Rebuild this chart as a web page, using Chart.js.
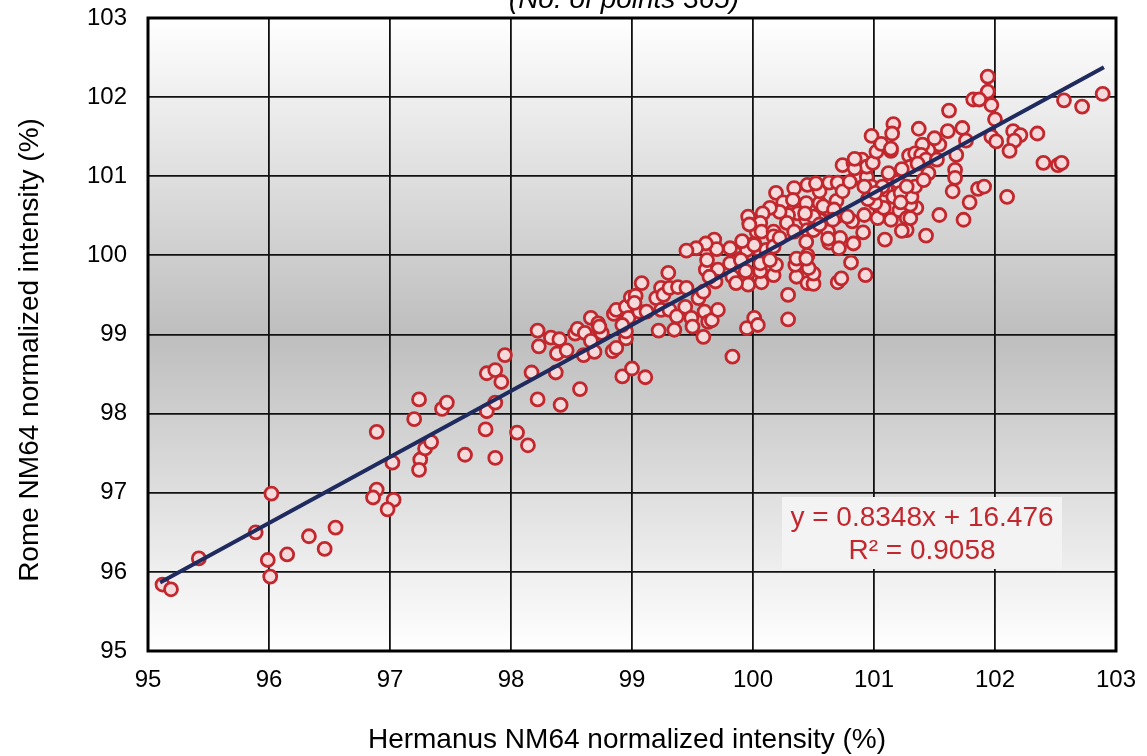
<!DOCTYPE html>
<html>
<head>
<meta charset="utf-8">
<script src="https://cdn.jsdelivr.net/npm/chart.js@4.4.1/dist/chart.umd.min.js"></script>
<style>
html, body { margin: 0; padding: 0; background: #FFFFFF; }
#graph_wrap { width: 1147px; height: 756px; }
</style>
</head>
<body>
<div id="graph_wrap"><canvas id="graph_scatter"></canvas></div>
<script>

// Hermanus NM64 normalized intensity (%) - x of each point
var HERMANUS = [
    95.12, 95.19, 95.42, 95.89, 96.02, 95.99, 96.01, 96.15, 96.33, 96.46,
    96.55, 96.89, 96.89, 96.86, 97.03, 96.98, 97.02, 97.20, 97.24, 97.25,
    97.24, 97.29, 97.34, 97.43, 97.47, 97.62, 97.87, 97.79, 97.80, 97.87,
    97.80, 97.87, 97.92, 97.95, 98.05, 98.14, 98.22, 98.17, 98.22, 98.23,
    98.33, 98.40, 98.37, 98.41, 98.38, 98.46, 98.53, 98.55, 98.61, 98.57,
    98.60, 98.69, 98.66, 98.66, 98.72, 98.73, 98.75, 98.84, 98.87, 98.92,
    99.00, 98.85, 98.87, 98.95, 98.97, 98.95, 98.95, 98.92, 98.99, 99.03,
    99.06, 99.08, 99.11, 99.20, 99.24, 99.26, 99.31, 99.38, 99.45, 99.30,
    99.24, 99.31, 99.37, 99.44, 99.49, 99.50, 99.35, 99.22, 99.59, 99.60,
    99.63, 99.66, 99.71, 99.55, 99.59, 99.61, 99.62, 99.71, 99.69, 99.83,
    99.81, 99.96, 99.96, 99.90, 99.92, 99.81, 99.68, 99.70, 99.61, 99.53,
    99.45, 100.01, 100.03, 99.97, 99.96, 99.95, 100.01, 100.04, 99.83, 99.86,
    100.07, 100.17, 100.29, 100.29, 100.36, 100.45, 99.64, 100.50, 100.50, 100.46,
    100.35, 100.36, 100.45, 100.70, 100.73, 100.81, 100.93, 101.09, 100.63, 100.72,
    100.83, 100.62, 100.91, 100.82, 100.92, 101.03, 101.14, 101.08, 101.01, 101.21,
    101.27, 101.27, 100.69, 100.62, 100.69, 100.55, 100.55, 100.63, 100.70, 100.74,
    100.85, 100.94, 100.98, 100.74, 100.83, 100.90, 100.94, 100.99, 101.02, 101.14,
    101.12, 101.20, 101.25, 101.10, 101.16, 100.45, 100.34, 100.19, 100.25, 100.33,
    100.44, 100.37, 100.29, 100.28, 100.22, 100.14, 100.08, 100.06, 100.07, 100.17,
    100.17, 99.95, 100.05, 100.11, 100.17, 100.22, 100.44, 100.45, 100.44, 100.55,
    100.06, 100.06, 100.19, 100.14, 100.95, 100.78, 100.92, 100.50, 100.50, 100.71,
    101.94, 101.94, 101.82, 101.87, 101.97, 101.62, 102.00, 101.16, 101.15, 100.98,
    101.06, 101.14, 101.37, 101.73, 101.61, 101.76, 101.97, 102.01, 102.15, 102.21,
    102.16, 102.12, 101.68, 101.54, 101.45, 101.40, 101.50, 101.29, 101.34, 101.39,
    101.67, 101.67, 101.65, 101.79, 101.86, 101.91, 102.10, 101.74, 101.54, 101.43,
    101.35, 101.30, 101.31, 101.34, 101.45, 101.30, 101.43, 101.22, 102.89, 102.72,
    102.57, 102.35, 102.40, 102.52, 102.55, 99.12, 98.73, 99.97, 100.01, 99.91,
    99.90, 99.94, 100.62, 100.44, 101.22, 100.84, 100.58, 100.67, 100.66, 101.07,
    100.43, 100.55, 101.23, 101.30, 101.23, 100.84, 99.02, 100.80, 101.01, 100.34,
    100.52, 101.27, 101.41, 101.36, 101.52
];

// Rome NM64 normalized intensity (%) - y of each point
var ROME = [
    95.84, 95.78, 96.17, 96.50, 96.99, 96.15, 95.94, 96.22, 96.45, 96.29,
    96.56, 97.77, 97.04, 96.94, 96.91, 96.79, 97.38, 97.93, 98.18, 97.42,
    97.29, 97.56, 97.64, 98.06, 98.14, 97.48, 97.44, 97.80, 98.03, 98.14,
    98.51, 98.55, 98.40, 98.74, 97.76, 97.60, 98.18, 98.52, 99.05, 98.85,
    98.96, 98.94, 98.52, 98.11, 98.76, 98.80, 99.01, 99.07, 99.02, 98.31,
    98.74, 98.78, 98.92, 99.21, 99.14, 99.07, 99.02, 98.79, 98.83, 98.47,
    98.57, 99.26, 99.31, 99.35, 99.21, 98.95, 99.04, 99.12, 99.47, 99.49,
    99.29, 99.65, 98.46, 99.46, 99.59, 99.50, 99.59, 99.60, 99.59, 99.78,
    99.31, 99.31, 99.23, 99.35, 99.21, 99.10, 99.06, 99.05, 98.97, 99.29,
    99.16, 99.18, 99.31, 99.46, 99.54, 99.82, 99.94, 99.82, 99.67, 99.73,
    99.90, 99.78, 99.63, 99.96, 100.15, 100.09, 100.20, 100.08, 100.15, 100.09,
    100.06, 100.15, 100.30, 100.41, 100.49, 99.08, 99.21, 99.12, 98.72, 99.65,
    99.66, 99.75, 99.50, 99.19, 99.73, 99.65, 99.73, 99.64, 99.77, 99.84,
    99.88, 99.96, 100.00, 99.66, 99.71, 99.91, 99.75, 100.20, 100.16, 100.22,
    100.15, 100.30, 100.29, 100.43, 100.51, 100.47, 100.45, 100.60, 100.66, 100.57,
    100.47, 100.32, 100.49, 100.58, 100.69, 100.66, 100.81, 100.92, 100.92, 100.81,
    101.00, 100.99, 100.87, 101.14, 101.17, 101.21, 101.12, 101.17, 101.31, 101.32,
    101.04, 100.93, 101.08, 100.83, 100.74, 100.89, 100.85, 100.79, 100.67, 100.70,
    100.66, 100.53, 100.51, 100.41, 100.55, 100.60, 100.53, 100.41, 100.30, 100.30,
    100.24, 100.07, 100.07, 100.07, 100.11, 100.22, 100.45, 100.32, 100.17, 100.45,
    99.80, 99.90, 99.88, 99.94, 100.71, 100.49, 100.87, 100.49, 100.32, 100.09,
    102.26, 102.07, 101.97, 101.97, 101.90, 101.83, 101.72, 101.66, 101.54, 101.51,
    101.41, 101.35, 101.60, 101.61, 101.57, 101.45, 101.50, 101.44, 101.57, 101.52,
    101.45, 101.32, 101.27, 101.40, 101.33, 101.40, 101.48, 101.26, 101.29, 101.27,
    101.08, 100.98, 100.81, 100.67, 100.84, 100.87, 100.74, 100.45, 100.51, 100.25,
    100.60, 100.64, 100.74, 100.87, 101.04, 101.12, 101.21, 100.79, 102.04, 101.88,
    101.96, 101.54, 101.17, 101.14, 101.17, 99.29, 99.10, 100.39, 100.13, 100.18,
    99.94, 99.80, 100.21, 99.96, 100.67, 101.10, 100.62, 100.58, 100.45, 100.87,
    100.53, 100.39, 100.31, 100.47, 101.09, 101.22, 99.40, 100.93, 100.79, 100.30,
    100.91, 100.87, 100.95, 101.16, 101.21
];

var AXIS_TICKS                      = [95, 96, 97, 98, 99, 100, 101, 102, 103];

var TREND_SLOPE                     = 0.8348;
var TREND_INTERCEPT                 = 16.476;
var TREND_R2                        = 0.9058;
var TREND_RANGE                     = [95.1, 102.9];

var TITLE_TEXT                      = '(No. of points 365)';
var LABEL_X                         = 'Hermanus NM64 normalized intensity (%)';
var LABEL_Y                         = 'Rome NM64 normalized intensity (%)';

var FONT_FAMILY                     = '"Liberation Sans", Arial, sans-serif';
var COLOR_RED                       = '#C1272D';

var graph_scatter_chart             = null;



function graph_points() {

    var points = [];

    for (var i = 0; i < HERMANUS.length; i++) {
        points.push({ x: HERMANUS[i], y: ROME[i] });
    }

    return points;
}



function graph_trend() {

    return TREND_RANGE.map(function(x) {
        return { x: x, y: TREND_SLOPE * x + TREND_INTERCEPT };
    });
}



var graph_plugin_background = {
    id: 'graph_background',
    beforeDraw: function(chart) {
        var ctx  = chart.ctx;
        var area = chart.chartArea;
        var grad = ctx.createLinearGradient(0, area.top, 0, area.bottom);
        grad.addColorStop(0, '#FFFFFF');
        grad.addColorStop(0.5, '#BEBEBE');
        grad.addColorStop(1, '#FFFFFF');
        ctx.save();
        ctx.fillStyle = grad;
        ctx.fillRect(area.left, area.top, area.right - area.left, area.bottom - area.top);
        ctx.restore();
    },
    beforeDatasetsDraw: function(chart) {
        var ctx  = chart.ctx;
        var area = chart.chartArea;

        // heavy frame round the plot
        ctx.save();
        ctx.strokeStyle = '#000000';
        ctx.lineWidth = 3;
        ctx.strokeRect(area.left, area.top, area.right - area.left, area.bottom - area.top);

        // equation box
        ctx.fillStyle = '#F3F3F3';
        ctx.fillRect(782, 497, 280, 72);
        ctx.fillStyle = COLOR_RED;
        ctx.font = '28px ' + FONT_FAMILY;
        ctx.textAlign = 'center';
        ctx.textBaseline = 'middle';
        ctx.fillText('y = ' + TREND_SLOPE.toFixed(4) + 'x + ' + TREND_INTERCEPT.toFixed(3), 922, 518);
        ctx.fillText('R\u00B2 = ' + TREND_R2.toFixed(4), 922, 551);
        ctx.restore();
    },
    afterDraw: function(chart) {
        var ctx = chart.ctx;
        ctx.save();
        ctx.fillStyle = '#000000';
        ctx.textAlign = 'center';

        ctx.font = 'italic 28px ' + FONT_FAMILY;
        ctx.textBaseline = 'alphabetic';
        ctx.fillText(TITLE_TEXT, 624, 8);

        ctx.font = '28px ' + FONT_FAMILY;
        ctx.textBaseline = 'middle';
        ctx.fillText(LABEL_X, 627, 740);

        ctx.translate(30, 350);
        ctx.rotate(-Math.PI / 2);
        ctx.fillText(LABEL_Y, 0, 0);
        ctx.restore();
    }
};



function graph_axis(size, which) {

    return {
        type: 'linear',
        min: AXIS_TICKS[0],
        max: AXIS_TICKS[AXIS_TICKS.length - 1],
        afterBuildTicks: function(scale) {
            scale.ticks = AXIS_TICKS.map(function(v) { return { value: v }; });
        },
        afterFit: function(scale) {
            // fixed box sizes, and no label overflow pushing the plot inwards
            if (which === 'x') {
                scale.height = size;
                scale.paddingLeft = 0;
                scale.paddingRight = 0;
            } else {
                scale.width = size;
                scale.paddingTop = 0;
                scale.paddingBottom = 0;
            }
        },
        ticks: {
            color: '#000000',
            padding: which === 'x' ? 15 : 21,
            font: { family: FONT_FAMILY, size: 24 },
        },
        grid: {
            color: '#111111',
            lineWidth: 1.8,
            drawTicks: false,
        },
        border: {
            display: false,
        }
    };
}



function graph_draw() {

    var canvas = document.getElementById('graph_scatter');

    graph_scatter_chart = new Chart(canvas, {
        type: 'scatter',
        data: {
            datasets: [
                {
                    type: 'line',
                    data: graph_trend(),
                    borderColor: '#1F2A5E',
                    borderWidth: 4,
                    pointRadius: 0,
                    order: 0,
                },
                {
                    data: graph_points(),
                    borderColor: COLOR_RED,
                    backgroundColor: '#F4DADB',
                    borderWidth: 2.8,
                    pointRadius: 6.5,
                    order: 1,
                },
            ]
        },
        options: {
            responsive: true,
            maintainAspectRatio: false,
            animation: false,
            devicePixelRatio: 1,
            layout: {
                padding: { top: 18, right: 31, bottom: 0, left: 0 }
            },
            scales: {
                x: graph_axis(105, 'x'),
                y: graph_axis(148, 'y'),
            },
            plugins: {
                legend: { display: false },
                tooltip: { enabled: false },
            }
        },
        plugins: [graph_plugin_background]
    });
}

graph_draw();

</script>
</body>
</html>
